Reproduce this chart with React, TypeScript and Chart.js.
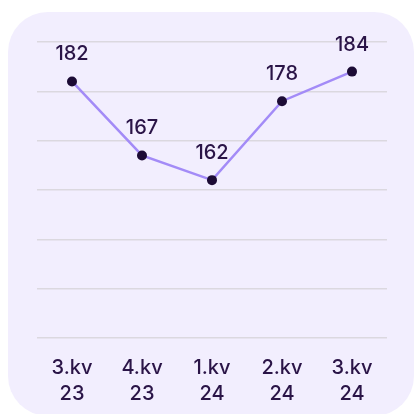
import React, { useEffect, useRef } from "react";
import { Chart, registerables } from "chart.js";

Chart.register(...registerables);

const categories: string[][] = [
  ["3.kv", "23"],
  ["4.kv", "23"],
  ["1.kv", "24"],
  ["2.kv", "24"],
  ["3.kv", "24"],
];
const values: number[] = [182, 167, 162, 178, 184];
const yMin = 130;
const yMax = 190;
const yStep = 10;

const TEXT = "#2a1447";
const FONT = "Inter, 'Noto Sans', sans-serif";

const valueLabels = {
  id: "valueLabels",
  afterDatasetsDraw(chart: any) {
    const ctx = chart.ctx;
    const meta = chart.getDatasetMeta(0);
    ctx.save();
    ctx.fillStyle = TEXT;
    ctx.font = `500 20px ${FONT}`;
    ctx.textAlign = "center";
    ctx.textBaseline = "middle";
    meta.data.forEach((pt: any, i: number) => {
      ctx.fillText(String(chart.data.datasets[0].data[i]), pt.x, pt.y - 27);
    });
    ctx.restore();
  },
};

export default function App() {
  const ref = useRef<HTMLCanvasElement | null>(null);
  useEffect(() => {
    if (!ref.current) return;
    const chart = new Chart(ref.current, {
      type: "line",
      data: {
        labels: categories,
        datasets: [
          {
            data: values,
            borderColor: "#a38bf7",
            borderWidth: 2.5,
            pointBackgroundColor: "#1c0b35",
            pointBorderColor: "#1c0b35",
            pointRadius: 5,
            pointBorderWidth: 0,
            tension: 0,
          },
        ],
      },
      options: {
        animation: false,
        responsive: false,
        maintainAspectRatio: false,
        layout: { padding: { top: 30, left: 29, right: 27, bottom: 0 } },
        plugins: { legend: { display: false }, tooltip: { enabled: false } },
        scales: {
          x: {
            offset: true,
            grid: { display: false, drawTicks: false },
            border: { display: false },
            ticks: {
              color: TEXT,
              font: { family: FONT, size: 20, weight: "500", lineHeight: 1.3 },
              padding: 17,
              maxRotation: 0,
              autoSkip: false,
            },
            afterFit: (s: any) => {
              s.height = 76;
            },
          },
          y: {
            min: yMin,
            max: yMax,
            grid: { color: "#dbd8df", lineWidth: 1.5, drawTicks: false },
            border: { display: false },
            ticks: { display: false, stepSize: yStep },
            afterFit: (s: any) => {
              s.width = 0;
            },
          },
        },
      },
      plugins: [valueLabels],
    });
    return () => chart.destroy();
  }, []);
  return (
    <div
      style={{
        position: "absolute",
        left: 8,
        top: 12,
        width: 406,
        height: 404,
        borderRadius: 40,
        background: "#f2eefe",
        overflow: "hidden",
      }}
    >
      <canvas ref={ref} width={406} height={402} style={{ display: "block" }} />
    </div>
  );
}
